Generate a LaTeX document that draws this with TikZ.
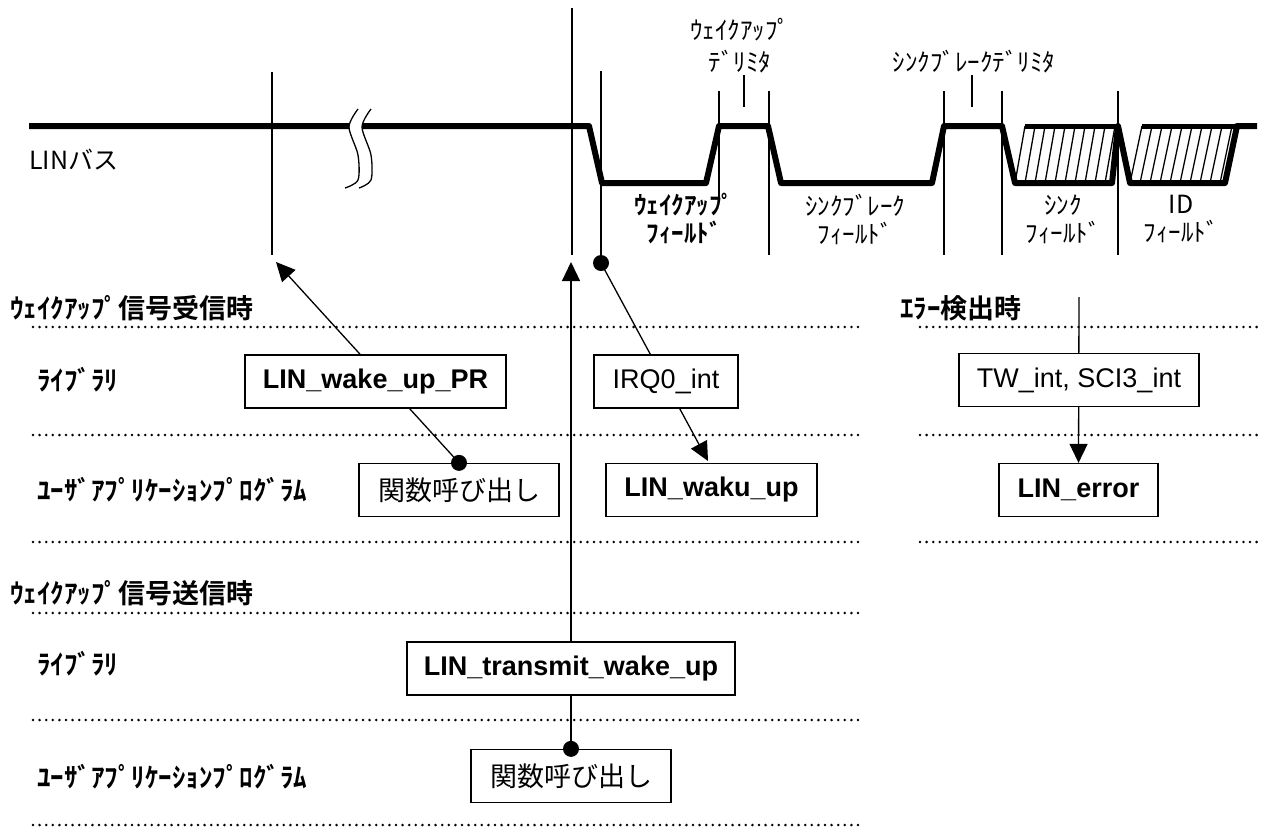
\documentclass[tikz,border=0pt]{standalone}
\usepackage{fontspec}
\setmainfont{Liberation Sans}
\newfontfamily\jp{Noto Sans CJK JP}[BoldFont={Noto Sans CJK JP Bold}]
\usetikzlibrary{arrows.meta,backgrounds}

\begin{document}
\begin{tikzpicture}[x=1pt, y=-1pt,
    box/.style={draw, line width=1.3pt, fill=white, inner sep=0pt, minimum height=53pt, font=\fontsize{27}{30}\selectfont},
    bbox/.style={box, font=\bfseries\fontsize{27}{30}\selectfont},
    jbox/.style={box, font=\jp\fontsize{27}{30}\selectfont},
    lbl/.style={anchor=west, inner sep=0pt, font=\jp\bfseries\fontsize{27}{30}\selectfont},
    fld/.style={align=center, inner sep=0pt, font=\jp\fontsize{25}{30}\selectfont},
    rowline/.style={line width=2.8pt, line cap=round, dash pattern=on 0pt off 6.6pt},
    tline/.style={line width=1.3pt},
    bus/.style={line width=6pt, line join=round},
    link/.style={line width=1.3pt},
    arr/.style={-{Triangle[length=19pt,width=18pt]}}]
    \useasboundingbox (0,0) rectangle (1265,828);

    \draw[bus] (29,126) -- (589,126) -- (602,183) -- (706,183) -- (719,126) -- (768,126)
        -- (781,183) -- (932,183) -- (944,126) -- (1002,126) -- (1015,183) -- (1112,183)
        -- (1118,126) -- (1130,183) -- (1225,183) -- (1237,126) -- (1257,126);
    \draw[bus, line width=5pt] (1025,126) -- (1118,126);
    \draw[bus, line width=5pt] (1142,126) -- (1237,126);
    \foreach \i in {0,...,9} \draw[tline] (1015+\i*10,183) -- (1025+\i*10,126);
    \foreach \i in {0,...,9} \draw[tline] (1130+\i*10,183) -- (1142+\i*10,126);

    \fill[white] plot[smooth] coordinates {(358,109) (349,127) (358,155) (358,180) (345,188)}
        -- plot[smooth] coordinates {(359,188) (371,180) (371,155) (362,127) (371,109)} -- cycle;
    \draw[tline] plot[smooth] coordinates {(358,109) (349,127) (358,155) (358,180) (345,188)};
    \draw[tline] plot[smooth] coordinates {(371,109) (362,127) (371,155) (371,180) (359,188)};

    \draw[tline] (272,72) -- (272,255);
    \draw[tline] (572,8) -- (572,255);
    \draw[tline] (601,71) -- (601,263);
    \draw[tline] (719,91) -- (719,202);
    \draw[tline] (744,75) -- (744,107);
    \draw[tline] (972,75) -- (972,107);
    \foreach \x in {769,944,1002,1118} \draw[tline] (\x,91) -- (\x,255);

    \node[anchor=west, inner sep=0pt, font=\jp\fontsize{25}{28}\selectfont] (buslbl) at (29,160) {LINバス};
    \node[fld, font=\jp\fontsize{25}{32}\selectfont] (wudelim) at (740,46) {ｳｪｲｸｱｯﾌﾟ\\ﾃﾞﾘﾐﾀ};
    \node[fld] (sbdelim) at (974,62) {ｼﾝｸﾌﾞﾚｰｸﾃﾞﾘﾐﾀ};
    \node[fld, font=\jp\bfseries\fontsize{25}{28}\selectfont] (wufield) at (684,219) {ｳｪｲｸｱｯﾌﾟ\\ﾌｨｰﾙﾄﾞ};
    \node[fld, font=\jp\fontsize{25}{28}\selectfont] (sbfield) at (855,219) {ｼﾝｸﾌﾞﾚｰｸ\\ﾌｨｰﾙﾄﾞ};
    \node[fld, font=\jp\fontsize{25}{28}\selectfont] (syfield) at (1063,219) {ｼﾝｸ\\ﾌｨｰﾙﾄﾞ};
    \node[fld, font=\jp\fontsize{25}{28}\selectfont] (idfield) at (1181,219) {ID\\ﾌｨｰﾙﾄﾞ};

    \node[lbl] (rxtitle) at (10,308) {ｳｪｲｸｱｯﾌﾟ信号受信時};
    \node[lbl] (rxlib) at (37,380) {ﾗｲﾌﾞﾗﾘ};
    \node[lbl] (rxapp) at (37,490) {ﾕｰｻﾞｱﾌﾟﾘｹｰｼｮﾝﾌﾟﾛｸﾞﾗﾑ};
    \node[lbl] (errtitle) at (900,308) {ｴﾗｰ検出時};
    \node[lbl] (txtitle) at (10,593) {ｳｪｲｸｱｯﾌﾟ信号送信時};
    \node[lbl] (txlib) at (37,664) {ﾗｲﾌﾞﾗﾘ};
    \node[lbl] (txapp) at (37,777) {ﾕｰｻﾞｱﾌﾟﾘｹｰｼｮﾝﾌﾟﾛｸﾞﾗﾑ};

    \foreach \y in {327,435,542,613,720,825} \draw[rowline] (33,\y) -- (862,\y);
    \foreach \y in {327,435,542} \draw[rowline] (920,\y) -- (1262,\y);

    \node[bbox, minimum width=261pt] (wakepr) at (375.5,381.5) {LIN\_wake\_up\_PR};
    \node[jbox, minimum width=200pt] (rxcall) at (459,490) {関数呼び出し};
    \node[box, minimum width=144pt] (irq) at (666,381.5) {IRQ0\_int};
    \node[bbox, minimum width=211pt] (wakuup) at (711.5,490) {LIN\_waku\_up};
    \node[box, minimum width=240pt] (twsci) at (1079,380) {TW\_int, SCI3\_int};
    \node[bbox, minimum width=159pt] (linerr) at (1078.5,490) {LIN\_error};
    \node[bbox, minimum width=328pt] (txwake) at (571,668.5) {LIN\_transmit\_wake\_up};
    \node[jbox, minimum width=200pt] (txcall) at (571,776) {関数呼び出し};

    \coordinate (rxtip) at (276,262);
    \coordinate (irqdot) at (601,263);
    \coordinate (irqtip) at (708,461);
    \coordinate (txtip) at (571,262);
    \coordinate (errtop) at (1079,297);

    \begin{scope}[on background layer]
        \draw[link, arr] (rxcall.north) -- (rxtip);
        \draw[link, arr] (irqdot) -- (irqtip);
        \draw[link, arr] (txcall.north) -- (txtip);
        \draw[link, arr] (errtop) -- (linerr.north);
    \end{scope}

    \fill (rxcall.north) circle (8pt);
    \fill (irqdot) circle (8pt);
    \fill (txcall.north) circle (8pt);
\end{tikzpicture}
\end{document}
